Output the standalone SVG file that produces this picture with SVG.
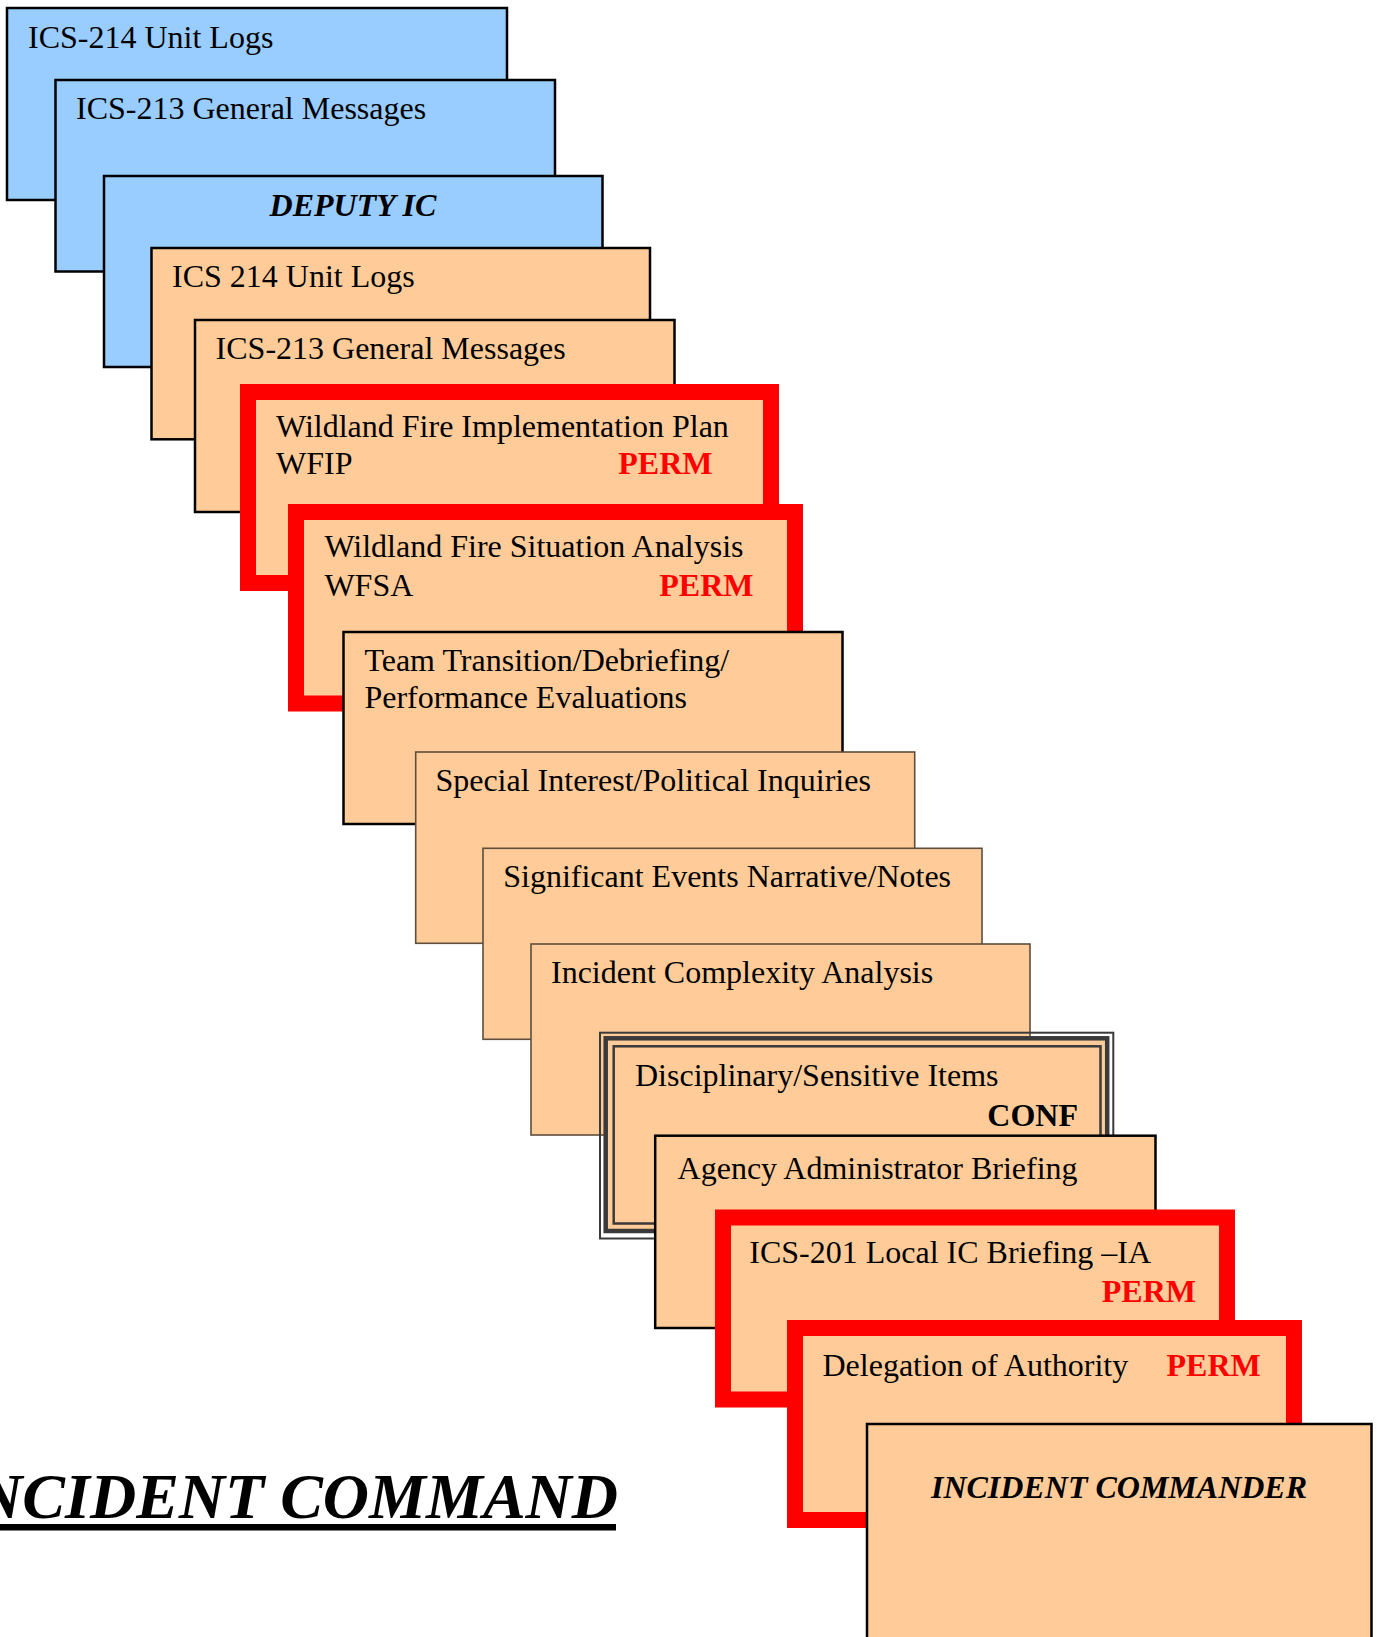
<svg xmlns="http://www.w3.org/2000/svg" width="1377" height="1637" viewBox="0 0 1377 1637">
<style>
.blue{fill:#99CCFF;stroke:#000;stroke-width:2.5}
.org{fill:#FFCC99;stroke:#000;stroke-width:2.5}
.orgg{fill:#FFCC99;stroke:#5e4e3e;stroke-width:1.6}
.red{fill:#FFCC99;stroke:#FF0000;stroke-width:16}
.t{font-family:"Liberation Serif","Times New Roman",serif;font-size:32px;fill:#000}
.perm{font-family:"Liberation Serif","Times New Roman",serif;font-size:32px;font-weight:bold;fill:#FF0000;text-anchor:end}
.conf{font-family:"Liberation Serif","Times New Roman",serif;font-size:32px;font-weight:bold;fill:#000;text-anchor:end}
.bi{font-family:"Liberation Serif","Times New Roman",serif;font-size:32px;font-weight:bold;font-style:italic;fill:#000;text-anchor:middle}
.title{font-family:"Liberation Serif","Times New Roman",serif;font-size:64px;font-weight:bold;font-style:italic;fill:#000;text-anchor:end}
</style>
<rect width="1377" height="1637" fill="#fff"/>
<g id="connectors"/>
<g id="n1"><rect class="blue" x="7" y="8" width="500" height="192"/><text class="t" x="28" y="48">ICS-214 Unit Logs</text></g>
<g id="n2"><rect class="blue" x="55.5" y="80" width="499.5" height="191.5"/><text class="t" x="76" y="119">ICS-213 General Messages</text></g>
<g id="n3"><rect class="blue" x="104" y="176" width="498.5" height="191"/><text class="bi" x="353" y="216">DEPUTY IC</text></g>
<g id="n4"><rect class="org" x="151.5" y="248" width="498.5" height="191.3"/><text class="t" x="172" y="287">ICS 214 Unit Logs</text></g>
<g id="n5"><rect class="org" x="195" y="320" width="479.5" height="192"/><text class="t" x="215.6" y="359">ICS-213 General Messages</text></g>
<g id="n6"><rect class="red" x="248" y="392" width="523" height="191"/><text class="t" x="276" y="437.3">Wildland Fire Implementation Plan</text><text class="t" x="276" y="474">WFIP</text><text class="perm" x="712.5" y="474">PERM</text></g>
<g id="n7"><rect class="red" x="296" y="512" width="499" height="191.5"/><text class="t" x="324.4" y="557.3">Wildland Fire Situation Analysis</text><text class="t" x="324.4" y="596">WFSA</text><text class="perm" x="753.5" y="596">PERM</text></g>
<g id="n8"><rect class="org" x="343.5" y="632" width="499" height="192"/><text class="t" x="364.4" y="670.7">Team Transition/Debriefing/</text><text class="t" x="364.4" y="708.3">Performance Evaluations</text></g>
<g id="n9"><rect class="orgg" x="415.7" y="752" width="499" height="191.3"/><text class="t" x="435.4" y="791">Special Interest/Political Inquiries</text></g>
<g id="n10"><rect class="orgg" x="483" y="848.3" width="499" height="191"/><text class="t" x="503.2" y="886.7">Significant Events Narrative/Notes</text></g>
<g id="n11"><rect class="orgg" x="531" y="944" width="499" height="191"/><text class="t" x="551" y="982.7">Incident Complexity Analysis</text></g>
<g id="n12">
<rect x="600" y="1032.7" width="513.3" height="205.8" fill="none" stroke="#3a3a3a" stroke-width="2"/>
<rect x="605.7" y="1038.3" width="501.5" height="192.7" fill="#FFCC99" stroke="#3a3a3a" stroke-width="4.5"/>
<rect x="613.7" y="1046.3" width="486.8" height="177.2" fill="none" stroke="#3a3a3a" stroke-width="2.5"/>
<text class="t" x="635" y="1086">Disciplinary/Sensitive Items</text><text class="conf" x="1078" y="1125.5">CONF</text></g>
<g id="n13"><rect class="org" x="655.2" y="1135.7" width="500.3" height="192.3"/><text class="t" x="677.6" y="1179.4">Agency Administrator Briefing</text></g>
<g id="n14"><rect class="red" x="723" y="1217.5" width="504" height="182"/><text class="t" x="749.3" y="1263.3">ICS-201 Local IC Briefing –IA</text><text class="perm" x="1196" y="1301.5">PERM</text></g>
<g id="n15"><rect class="red" x="795" y="1328" width="499" height="192"/><text class="t" x="822.5" y="1376.3">Delegation of Authority</text><text class="perm" x="1260.7" y="1376.3">PERM</text></g>
<g id="n16"><rect class="org" x="867" y="1424" width="504.5" height="240"/><text class="bi" x="1119" y="1497.6">INCIDENT COMMANDER</text></g>
<g id="title"><text class="title" x="618" y="1518">INCIDENT COMMAND</text><rect x="0" y="1524" width="616" height="6.5" fill="#000"/></g>
</svg>
